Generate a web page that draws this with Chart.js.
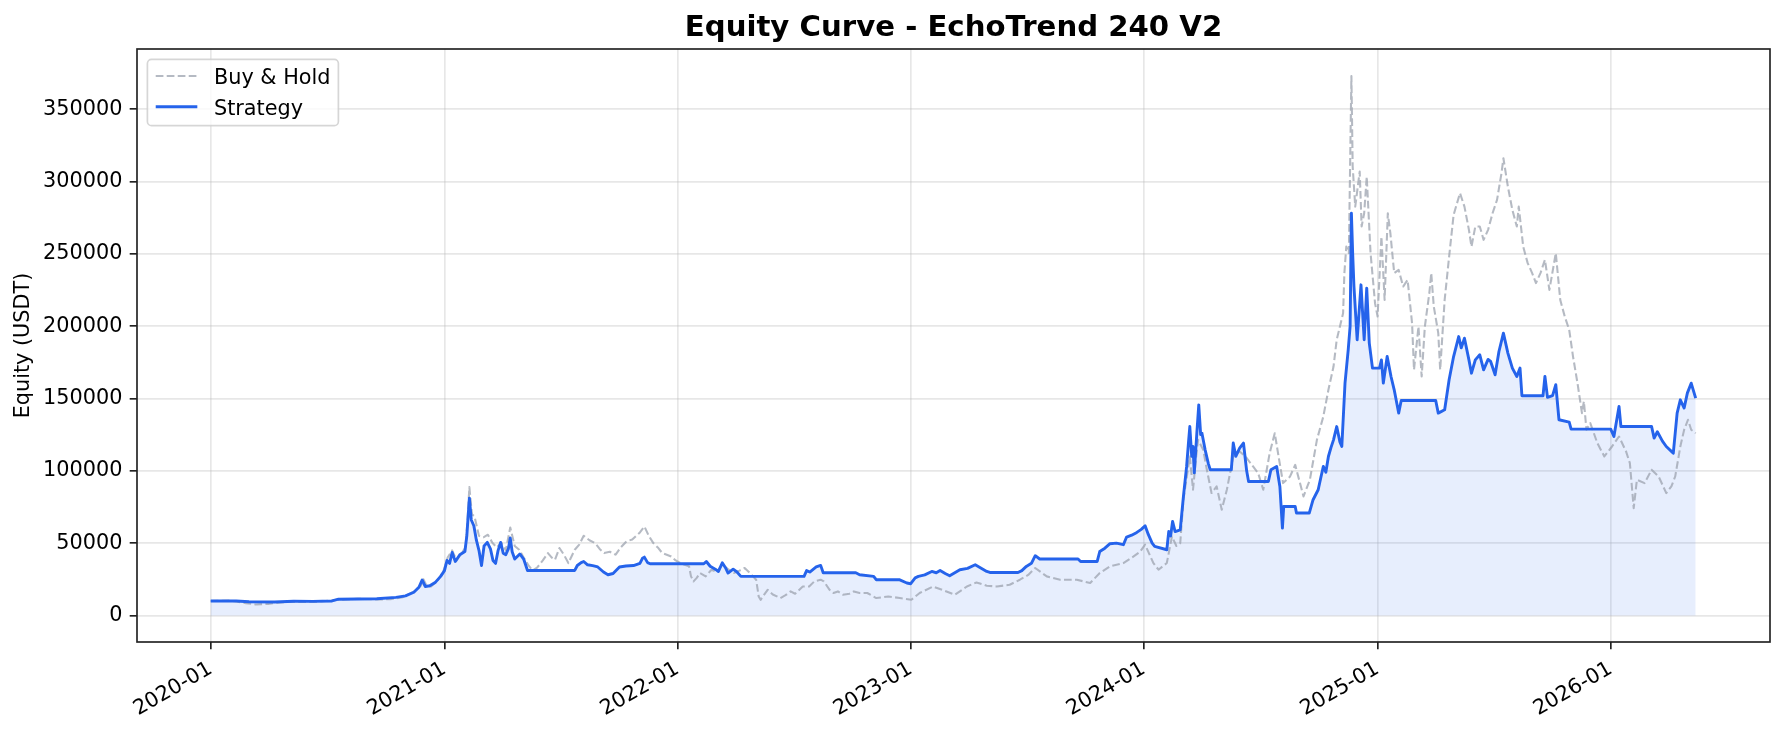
<!DOCTYPE html>
<html>
<head>
<meta charset="utf-8">
<title>Equity Curve - EchoTrend 240 V2</title>
<script src="https://cdn.jsdelivr.net/npm/chart.js@4.4.1/dist/chart.umd.min.js"></script>
<style>
  html, body { margin: 0; padding: 0; background: #fff; }
  #wrap { width: 1784px; height: 733px; }
</style>
</head>
<body>
<div id="wrap"><canvas id="equityChart" width="1784" height="733"></canvas></div>
<script>
/* ---------------------------------------------------------
   DATA  (x = days since 2020-01-01, y = equity in USDT)
   --------------------------------------------------------- */
const yearTicks  = [0, 366, 731, 1096, 1461, 1827, 2192];
const yearLabels = ['2020-01', '2021-01', '2022-01', '2023-01', '2024-01', '2025-01', '2026-01'];
const equityTicks = [0, 50000, 100000, 150000, 200000, 250000, 300000, 350000];

const holdPoints = [
  [0,10000],[30,10300],[55,8500],[70,7600],[90,8000],[120,9400],[162,9300],[200,10800],[230,11500],[260,11000],
  [281,11200],[301,12600],[318,16500],[329,20500],[333,25000],[338,20500],[345,20000],[355,24000],[364,30000],[371,40000],
  [378,45000],[385,38000],[399,47000],[402,65000],[405,88700],[409,70000],[413,68400],[420,55000],[427,54000],[434,55800],
  [441,50200],[448,47000],[455,50200],[462,45000],[469,60800],[476,48000],[483,45400],[490,40000],[497,35000],[504,31000],
  [511,33000],[520,38000],[528,43100],[534,40000],[539,38500],[546,46600],[553,42000],[560,36200],[570,45400],[577,49000],
  [584,55100],[593,52000],[602,50000],[609,46000],[616,43100],[625,44000],[634,42000],[642,47000],[651,51200],[660,52500],
  [672,57400],[679,61500],[686,55000],[693,50000],[700,47000],[707,43100],[714,42000],[721,40800],[728,38000],[735,36200],
  [742,35000],[749,33900],[752,27000],[756,23500],[761,26000],[766,29300],[775,27000],[784,31600],[792,30000],[801,35000],
  [810,32000],[819,29300],[828,31000],[836,32800],[845,29000],[854,24700],[858,13100],[861,10800],[866,14000],[872,17700],
  [880,14500],[892,12000],[900,14000],[908,16600],[915,15000],[927,20000],[937,20000],[945,23500],[955,24700],[960,23500],
  [969,17700],[975,15500],[982,16600],[990,14300],[1000,15000],[1007,16600],[1016,15500],[1028,15500],[1042,12000],[1061,13100],
  [1079,12000],[1097,10800],[1110,15500],[1131,20000],[1145,17700],[1165,14300],[1184,20000],[1199,22800],[1215,20500],[1231,20000],
  [1251,21200],[1267,24700],[1280,28000],[1291,32800],[1309,27000],[1330,24700],[1356,24700],[1377,22400],[1392,29300],[1408,33900],
  [1429,36200],[1445,40800],[1455,44000],[1463,48900],[1470,42000],[1476,36200],[1484,31600],[1497,36200],[1505,54600],[1512,48000],
  [1518,50000],[1523,80000],[1528,95000],[1533,109900],[1538,86900],[1543,110000],[1546,121400],[1554,114500],[1560,100000],[1567,84600],
  [1575,89200],[1583,73100],[1591,86900],[1596,98400],[1601,109900],[1611,113400],[1620,110000],[1632,103000],[1640,98400],[1648,86900],
  [1658,112200],[1666,126000],[1672,109900],[1679,91500],[1690,96100],[1698,104100],[1711,82300],[1721,93800],[1732,121400],[1742,137500],
  [1750,156000],[1758,172100],[1763,190600],[1773,209000],[1775,236700],[1778,255000],[1782,250500],[1786,373000],[1788,310400],[1792,282700],
  [1799,306900],[1802,268900],[1806,278100],[1810,303400],[1816,250500],[1823,215900],[1827,206700],[1833,262000],[1838,218200],[1843,278100],
  [1847,264300],[1853,236700],[1860,238900],[1867,227400],[1874,232000],[1881,202000],[1884,169800],[1891,199700],[1896,165200],[1901,199700],
  [1908,222800],[1911,236700],[1915,213600],[1922,195200],[1925,169800],[1932,218200],[1939,248100],[1946,276900],[1956,292000],[1963,282700],
  [1970,266600],[1974,255000],[1980,268900],[1987,268900],[1993,259700],[2000,266600],[2007,278100],[2014,287300],[2021,305800],[2024,316100],
  [2031,296500],[2038,280400],[2045,268900],[2048,282700],[2055,255000],[2062,243600],[2069,236700],[2075,229800],[2082,236700],[2089,245900],
  [2096,225100],[2106,250500],[2113,218200],[2120,206700],[2127,197500],[2133,179000],[2140,160600],[2147,139900],[2150,148000],[2154,128400],
  [2160,133000],[2171,119200],[2182,109900],[2194,116800],[2205,123700],[2216,113400],[2222,105300],[2228,74200],[2233,93800],[2245,91500],
  [2256,100700],[2267,96100],[2279,84600],[2287,89200],[2293,96100],[2301,116800],[2307,128400],[2313,135300],[2318,128400],[2325,126000]
];

const strategyPoints = [
  [0,10000],[40,10000],[60,9400],[100,9300],[130,9800],[160,9700],[190,10000],[200,11200],[260,11500],[290,12500],
  [305,13500],[318,16000],[326,19500],[331,24500],[336,20000],[343,20500],[352,23000],[360,27000],[366,31000],[370,38000],
  [374,36000],[378,43500],[383,37300],[390,42000],[398,44200],[401,55000],[405,81100],[408,66000],[412,62000],[416,52000],
  [420,45000],[424,34500],[428,48000],[433,50500],[438,46000],[442,38000],[446,36000],[450,45000],[454,50500],[458,43000],
  [462,42000],[466,46000],[469,53500],[472,44000],[476,39000],[484,42500],[490,39000],[496,31100],[570,31100],[574,34500],
  [580,36500],[584,37300],[590,35000],[598,34400],[606,33500],[615,30000],[622,28100],[630,29000],[640,33500],[650,34200],
  [662,34500],[672,36000],[676,39500],[679,40300],[684,36500],[688,35700],[772,35700],[776,37300],[782,34000],[790,32000],
  [795,30400],[801,36400],[806,33000],[810,29300],[818,32000],[824,30000],[830,27000],[929,27000],[933,31000],[938,30000],
  [948,33500],[955,34600],[959,29500],[1010,29500],[1016,28100],[1038,27000],[1042,24700],[1078,24700],[1090,22400],[1096,21900],
  [1103,26000],[1108,27000],[1118,28000],[1129,30400],[1136,29500],[1142,31100],[1150,29000],[1157,27400],[1165,29500],[1173,31600],
  [1185,32500],[1197,35000],[1205,33000],[1215,30400],[1220,29700],[1264,29700],[1270,31000],[1277,33900],[1285,36000],[1291,41300],
  [1298,39000],[1358,39000],[1362,37300],[1388,37300],[1392,44200],[1400,46500],[1408,49600],[1418,50000],[1429,48900],[1434,54200],
  [1442,55500],[1450,57400],[1457,59500],[1463,62000],[1468,56000],[1474,50000],[1478,47700],[1497,45400],[1500,58000],[1503,55000],
  [1506,65000],[1510,58000],[1518,59200],[1523,82300],[1528,103000],[1531,120000],[1533,130600],[1536,110000],[1538,116800],[1540,98600],
  [1544,126000],[1547,145600],[1550,125000],[1552,126000],[1557,114500],[1562,105000],[1565,100700],[1598,100700],[1601,119200],[1605,110000],
  [1611,115700],[1617,119200],[1622,100000],[1625,92600],[1656,92600],[1660,100700],[1669,103000],[1674,89200],[1678,60400],[1680,75300],
  [1698,75300],[1700,70800],[1720,70800],[1726,80000],[1734,86900],[1738,95000],[1742,103000],[1746,99000],[1750,109900],[1754,116000],
  [1758,121400],[1763,130600],[1768,120000],[1771,116800],[1776,160600],[1781,183600],[1784,200000],[1786,278100],[1788,250000],[1790,227400],
  [1795,190600],[1801,228600],[1806,190600],[1810,226300],[1814,188300],[1819,171000],[1830,171000],[1833,176700],[1836,160600],[1842,179000],
  [1848,165200],[1853,156000],[1860,139900],[1864,148600],[1918,148600],[1922,139900],[1932,142200],[1939,162900],[1946,179000],[1954,192800],
  [1958,185000],[1963,191700],[1970,176700],[1974,167500],[1980,176700],[1987,180200],[1993,169800],[2000,177000],[2004,175600],[2011,166400],
  [2017,182500],[2024,195200],[2031,181400],[2038,171000],[2045,165200],[2050,171000],[2053,151900],[2086,151900],[2089,165200],[2093,150800],
  [2101,152000],[2106,159500],[2111,135300],[2127,133600],[2130,128800],[2192,128800],[2197,123700],[2205,144500],[2208,130600],[2256,130600],
  [2260,122600],[2265,127000],[2273,120500],[2279,116800],[2290,112200],[2296,139900],[2301,149100],[2307,143400],[2312,153700],[2318,160600],
  [2325,150300]
];

/* ---------------------------------------------------------
   STYLE
   --------------------------------------------------------- */
const FS = 20.8;                       // 10pt @ 150 dpi
const BLUE = '#2563eb';
const GREY = 'rgba(156, 163, 175, 0.75)';
const GRID = 'rgba(176, 176, 176, 0.3)';
const INK = '#222';

Chart.defaults.font.family = '"DejaVu Sans", sans-serif';
Chart.defaults.font.size = FS;
Chart.defaults.color = '#000';

const toXY = pts => pts.map(([d, v]) => ({ x: d, y: v }));

// spines + matplotlib-style legend box
const frameAndLegend = {
    id: 'frameAndLegend',
    afterDraw(chart) {
        const { ctx, chartArea: a } = chart;
        ctx.save();
        ctx.strokeStyle = INK;
        ctx.lineWidth = 1.67;
        ctx.strokeRect(a.left, a.top, a.right - a.left, a.bottom - a.top);

        const bx = a.left + 0.5 * FS, by = a.top + 0.5 * FS;
        ctx.beginPath();
        ctx.roundRect(bx, by, 191, 66.3, 4.2);
        ctx.fillStyle = 'rgba(255,255,255,0.8)';
        ctx.fill();
        ctx.strokeStyle = 'rgba(204,204,204,0.8)';
        ctx.lineWidth = 1.67;
        ctx.stroke();

        ctx.font = `${FS}px "DejaVu Sans"`;
        ctx.textBaseline = 'alphabetic';
        chart.data.datasets.forEach((ds, i) => {
            const cy = by + 16.6 + i * 30.7;
            ctx.beginPath();
            ctx.setLineDash(ds.borderDash || []);
            ctx.strokeStyle = ds.borderColor;
            ctx.lineWidth = ds.borderWidth;
            ctx.moveTo(bx + 0.4 * FS, cy);
            ctx.lineTo(bx + 2.4 * FS, cy);
            ctx.stroke();
            ctx.setLineDash([]);
            ctx.fillStyle = '#000';
            ctx.fillText(ds.label, bx + 3.2 * FS, cy + 8);
        });
        ctx.restore();
    }
};

const axisGrid = {
    color: GRID,
    lineWidth: 1.67,
    tickColor: INK,
    tickWidth: 1.67,
    tickLength: 7.3
};

/* ---------------------------------------------------------
   CHART
   --------------------------------------------------------- */
new Chart(document.getElementById('equityChart').getContext('2d'), {
    type: 'line',
    data: {
        datasets: [
            {
                label: 'Buy & Hold',
                data: toXY(holdPoints),
                borderColor: GREY,
                borderWidth: 2.08,
                borderDash: [7.7, 3.3],
                pointRadius: 0,
                fill: false,
                order: 1
            },
            {
                label: 'Strategy',
                data: toXY(strategyPoints),
                borderColor: BLUE,
                borderWidth: 2.9,
                pointRadius: 0,
                fill: 'origin',
                backgroundColor: 'rgba(37, 99, 235, 0.11)',
                order: 0
            }
        ]
    },
    options: {
        responsive: false,
        animation: false,
        devicePixelRatio: 1,
        events: [],
        elements: { line: { tension: 0, borderJoinStyle: 'round' } },
        layout: { padding: { left: 0, right: 14, top: 0, bottom: 0 } },
        plugins: {
            legend: { display: false },
            tooltip: { enabled: false },
            filler: { drawTime: 'beforeDatasetsDraw' },
            title: {
                display: true,
                fullSize: false,
                text: 'Equity Curve - EchoTrend 240 V2',
                color: '#000',
                font: { size: 29.2, weight: 'bold' },
                padding: { top: 10.9, bottom: 3.06 }
            }
        },
        scales: {
            x: {
                type: 'linear',
                min: -115.4,
                max: 2441.4,
                afterBuildTicks: s => { s.ticks = yearTicks.map(v => ({ value: v })); },
                afterFit: s => { s.height = 91; },
                ticks: {
                    autoSkip: false,
                    minRotation: 30,
                    maxRotation: 30,
                    padding: 7.3,
                    callback: v => yearLabels[yearTicks.indexOf(v)]
                },
                grid: axisGrid,
                border: { display: false }
            },
            y: {
                type: 'linear',
                min: -18384,
                max: 391670,
                afterBuildTicks: s => { s.ticks = equityTicks.map(v => ({ value: v })); },
                afterFit: s => { s.width = 137; },
                ticks: {
                    padding: 7.3,
                    callback: v => String(v)
                },
                grid: axisGrid,
                border: { display: false },
                title: {
                    display: true,
                    text: 'Equity (USDT)',
                    color: '#000',
                    padding: { top: 11.5, bottom: 0 }
                }
            }
        }
    },
    plugins: [frameAndLegend]
});
</script>
</body>
</html>
